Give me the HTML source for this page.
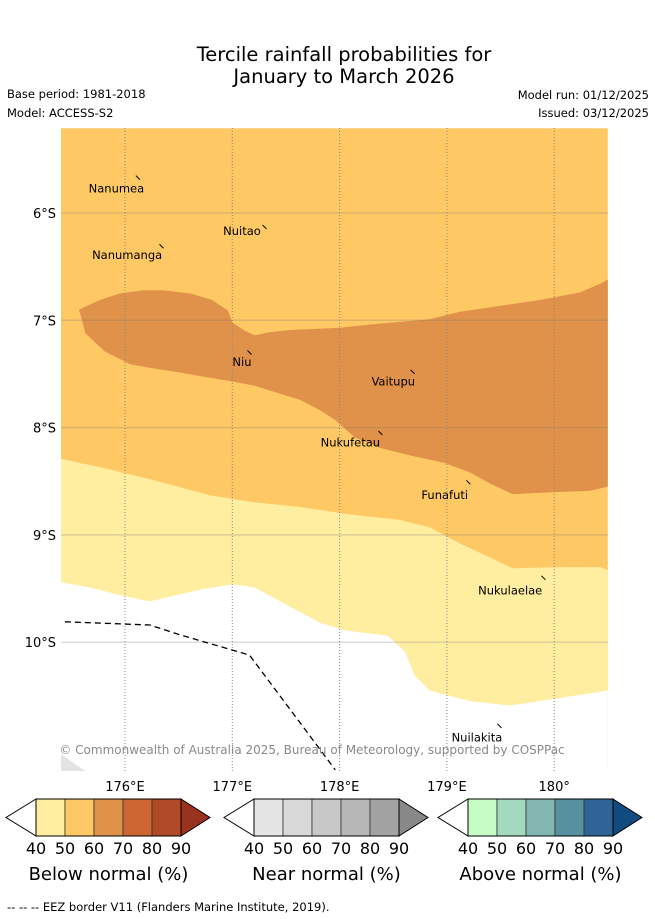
<!DOCTYPE html>
<html><head><meta charset="utf-8"><style>
body{margin:0;background:#fff;}
svg{display:block;font-family:"DejaVu Sans","Liberation Sans",sans-serif;}
</style></head><body>
<svg width="655" height="919" viewBox="0 0 655 919">
<text x="344" y="61" text-anchor="middle" font-size="19.5">Tercile rainfall probabilities for</text>
<text x="344" y="83" text-anchor="middle" font-size="19.5">January to March 2026</text>
<text x="7" y="98" font-size="11.5">Base period: 1981-2018</text>
<text x="7" y="117" font-size="11.5">Model: ACCESS-S2</text>
<text x="649" y="99" font-size="11.5" text-anchor="end">Model run: 01/12/2025</text>
<text x="649" y="117" font-size="11.5" text-anchor="end">Issued: 03/12/2025</text>
<defs><clipPath id="mc"><rect x="61" y="128" width="547" height="643"/></clipPath></defs>
<g id="map" clip-path="url(#mc)">
<rect x="61" y="128" width="547" height="643" fill="#fff"/>
</g>
<g id="cbars"></g>
<text x="7" y="911" font-size="11.5">--  --  -- EEZ border V11 (Flanders Marine Institute, 2019).</text>
</svg>
<script>
const lonTicks=[176,177,178,179,180];
const lonLabels=["176°E","177°E","178°E","179°E","180°"];
const latTicks=[6,7,8,9,10];
const latLabels=["6°S","7°S","8°S","9°S","10°S"];
const zone5060=[[175.40,5.21],[180.50,5.21],[180.50,11.2],[175.40,11.2]];
const zone6070=[[175.57,6.90],[175.77,6.81],[175.95,6.75],[176.17,6.72],[176.35,6.72],[176.61,6.75],[176.81,6.81],[176.96,6.91],[177.00,7.02],[177.12,7.10],[177.21,7.14],[177.35,7.11],[177.54,7.09],[178.00,7.07],[178.38,7.03],[178.84,6.99],[179.12,6.92],[179.40,6.88],[179.87,6.81],[180.24,6.74],[180.43,6.66],[180.50,6.62],[180.50,8.55],[180.33,8.59],[180.05,8.60],[179.61,8.62],[179.40,8.52],[179.22,8.42],[178.98,8.33],[178.66,8.26],[178.38,8.19],[178.14,8.09],[177.96,7.93],[177.82,7.84],[177.63,7.74],[177.40,7.67],[177.21,7.61],[177.00,7.57],[176.70,7.52],[176.47,7.48],[176.21,7.44],[176.05,7.41],[175.81,7.29],[175.63,7.12],[175.60,7.00]];
const zone4050=[[175.40,8.29],[175.77,8.37],[176.23,8.48],[176.79,8.63],[177.16,8.69],[177.63,8.74],[178.10,8.81],[178.56,8.86],[178.84,8.93],[179.12,9.08],[179.40,9.21],[179.61,9.31],[180.05,9.30],[180.43,9.30],[180.50,9.33],[180.50,11.3],[175.40,11.3]];
const zoneWhite=[[180.50,10.45],[180.05,10.52],[179.59,10.59],[179.22,10.55],[178.84,10.45],[178.70,10.31],[178.61,10.09],[178.45,9.94],[178.05,9.89],[177.82,9.82],[177.54,9.67],[177.21,9.49],[177.00,9.46],[176.70,9.51],[176.23,9.62],[175.95,9.56],[175.67,9.49],[175.40,9.44],[175.40,11.3],[180.50,11.3]];
const greyPatch=[[175.40,11.04],[175.40,11.25],[175.70,11.25]];
const eez=[[175.44,9.81],[176.23,9.84],[176.51,9.93],[177.16,10.12],[177.96,11.19]];
const islands=[["Nanumea",175.92,5.77,176.12,5.67],["Nuitao",177.09,6.17,177.30,6.13],["Nanumanga",176.02,6.39,176.34,6.31],["Niu",177.09,7.39,177.16,7.30],["Vaitupu",178.50,7.57,178.68,7.48],["Nukufetau",178.10,8.14,178.38,8.05],["Funafuti",178.98,8.63,179.20,8.51],["Nukulaelae",179.59,9.52,179.90,9.40],["Nuilakita",179.28,10.89,179.49,10.78]];
const cbTicks=["40","50","60","70","80","90"];
const cbTitles=["Below normal (%)","Near normal (%)","Above normal (%)"];
const cbColors=[["#ffeda0","#fec965","#e0924a","#cd6633","#b04a27","#9a3220"],["#e5e5e5","#d9d9d9","#c8c8c8","#b7b7b7","#a3a3a3","#888888"],["#c7fcc7","#a3d9bd","#81b7b0","#5791a0","#306496","#124b80"]];

const NS="http://www.w3.org/2000/svg";
function X(lon){return 125+(lon-176)*107.3;}
function Y(lat){return 213+(lat-6)*107.3;}
function mk(t,a,p){const e=document.createElementNS(NS,t);for(const k in a)e.setAttribute(k,a[k]);p.appendChild(e);return e;}
function pts(arr){return arr.map(p=>X(p[0]).toFixed(1)+","+Y(p[1]).toFixed(1)).join(" ");}
const map=document.getElementById('map');
const svg=map.ownerSVGElement;
let e;
e=mk('polygon',{points:pts(zone5060),fill:'#fec965'},map);


e=mk('polygon',{points:pts(zone6070),fill:'#e0924a'},map);


e=mk('polygon',{points:pts(zone4050),fill:'#ffeda0'},map);


e=mk('polygon',{points:pts(zoneWhite),fill:'#ffffff'},map);


e=mk('polygon',{points:pts(greyPatch),fill:'#e3e3e3'},map);


latTicks.forEach((v,i)=>{
 e=mk('line',{x1:61,x2:608,y1:Y(v),y2:Y(v),stroke:'rgba(120,120,120,0.25)','stroke-width':1.5},map);
 
 
 e=mk('text',{x:56,y:Y(v)+5,'text-anchor':'end','font-size':13},svg);
 e.textContent=latLabels[i];
 
 
});
lonTicks.forEach((v,i)=>{
 e=mk('line',{x1:X(v),x2:X(v),y1:128,y2:771,stroke:'#888','stroke-width':1,'stroke-dasharray':'1,2'},map);
 
 
 e=mk('text',{x:X(v),y:791,'text-anchor':'middle','font-size':13},svg);
 e.textContent=lonLabels[i];
 
 
});
e=mk('polyline',{points:pts(eez),fill:'none',stroke:'#000','stroke-width':1.3,'stroke-dasharray':'6,4'},map);


islands.forEach(d=>{
 e=mk('line',{x1:X(d[3])-2,y1:Y(d[4])-2,x2:X(d[3])+2,y2:Y(d[4])+2,stroke:'#000','stroke-width':1},map);
 
 
 e=mk('text',{x:X(d[1]),y:Y(d[2])+4,'text-anchor':'middle','font-size':11.5},map);
 e.textContent=d[0];
 
 
});
e=mk('text',{x:312,y:754,'text-anchor':'middle','font-size':12,fill:'#8a8a8a'},map);
e.textContent='© Commonwealth of Australia 2025, Bureau of Meteorology, supported by COSPPac';



const cb=document.getElementById('cbars');
[36,254,468].forEach((x0,ci)=>{
 const w=29,y0=799,h=37;
 e=mk('polygon',{points:`${x0},${y0} ${x0-30},${y0+h/2} ${x0},${y0+h}`,fill:'#fff',stroke:'#000','stroke-width':1},cb);
 
 
 for(let k=0;k<5;k++){
  e=mk('rect',{x:x0+k*w,y:y0,width:w,height:h,fill:cbColors[ci][k],stroke:'#333','stroke-width':0.8},cb);
  
  
 }
 const xe=x0+5*w;
 e=mk('polygon',{points:`${xe},${y0} ${xe+29},${y0+h/2} ${xe},${y0+h}`,fill:cbColors[ci][5],stroke:'#000','stroke-width':1},cb);
 
 
 e=mk('rect',{x:x0,y:y0,width:5*w,height:h,fill:'none',stroke:'#000','stroke-width':1},cb);
 
 
 cbTicks.forEach((t,k)=>{
  e=mk('text',{x:x0+k*w,y:854,'text-anchor':'middle','font-size':16},cb);
  e.textContent=t;
  
  
 });
 e=mk('text',{x:x0+2.5*w,y:880,'text-anchor':'middle','font-size':18},cb);
 e.textContent=cbTitles[ci];
 
 
});
</script>
</body></html>
